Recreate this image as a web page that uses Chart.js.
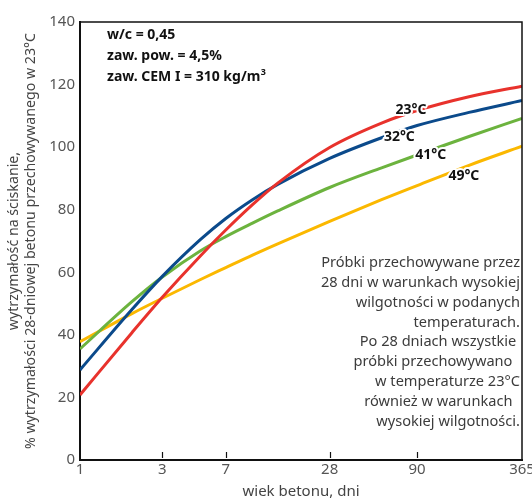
<!DOCTYPE html>
<html>
<head>
<meta charset="utf-8">
<script src="https://cdn.jsdelivr.net/npm/chart.js@4.4.1/dist/chart.umd.min.js"></script>
<style>
  html, body { margin: 0; padding: 0; background: #fff; overflow: hidden; }
  #wrap { width: 545px; height: 501px; }
</style>
</head>
<body>
<div id="wrap"><canvas id="chart" width="545" height="501"></canvas></div>
<script>
// wiek betonu (dni) i wytrzymałość w % wytrzymałości 28-dniowej (23°C)
var days = [1, 2, 3, 5, 7, 10, 14, 28, 56, 90, 180, 365];
var s23 = [20.8, 40.7, 52.0, 65.3, 73.5, 81.6, 88.5, 99.9, 107.7, 111.7, 116.1, 119.5];
var s32 = [28.8, 48.1, 58.7, 70.5, 77.2, 83.2, 88.1, 96.4, 103.0, 106.9, 111.1, 114.9];
var s41 = [35.5, 50.6, 58.5, 66.9, 71.4, 75.7, 79.6, 87.1, 93.4, 97.5, 103.4, 109.2];
var s49 = [37.8, 46.8, 51.7, 57.7, 61.5, 65.5, 69.1, 76.3, 83.2, 87.7, 94.2, 100.3];

var xTicks = [1, 3, 7, 28, 90, 365];

// etykiety serii (dzień, wartość)
var labelNames = ["23°C", "32°C", "41°C", "49°C"];
var labelDays = [83, 71, 108, 168];
var labelValues = [111.9, 103.2, 97.5, 90.8];

var headerLines = ["w/c = 0,45", "zaw. pow. = 4,5%", "zaw. CEM I = 310 kg/m"];
var noteLines = [
  "Próbki przechowywane przez",
  "28 dni w warunkach wysokiej",
  "wilgotności w podanych",
  "temperaturach.",
  "Po 28 dniach wszystkie ",
  "próbki przechowywano  ",
  "w temperaturze 23°C",
  "również w warunkach  ",
  "wysokiej wilgotności."
];

var FONT = "'Noto Sans', 'DejaVu Sans', sans-serif";

function series(vals){
  return days.map(function(d, i){ return {x: d, y: vals[i]}; });
}

function ds(label, vals, color){
  return {
    label: label,
    data: series(vals),
    borderColor: color,
    backgroundColor: color,
    borderWidth: 3,
    pointRadius: 0,
    cubicInterpolationMode: "monotone",
    fill: false
  };
}

var decor = {
  id: "decor",
  afterDraw: function(chart){
    var ctx = chart.ctx;
    var a = chart.chartArea;
    var xs = chart.scales.x, ys = chart.scales.y;
    ctx.save();

    // ramka góra / prawo
    ctx.strokeStyle = "#111";
    ctx.lineWidth = 1.5;
    ctx.beginPath();
    ctx.moveTo(a.left, a.top);
    ctx.lineTo(a.right, a.top);
    ctx.lineTo(a.right, a.bottom);
    ctx.stroke();

    // znaczniki osi x do środka
    ctx.lineWidth = 1.2;
    xTicks.slice(1, -1).forEach(function(v){
      var px = Math.round(xs.getPixelForValue(v)) + 0.5;
      ctx.beginPath();
      ctx.moveTo(px, a.bottom - 8);
      ctx.lineTo(px, a.bottom - 2);
      ctx.stroke();
    });

    // nagłówek
    ctx.fillStyle = "#111";
    ctx.font = "bold 14px " + FONT;
    ctx.textAlign = "left";
    ctx.textBaseline = "middle";
    headerLines.forEach(function(t, i){
      ctx.fillText(t, 107, 35 + i * 21);
    });
    var w = ctx.measureText(headerLines[2]).width;
    ctx.font = "bold 9px " + FONT;
    ctx.fillText("3", 107 + w + 0.5, 72);

    // opis
    ctx.fillStyle = "#3c3c3c";
    ctx.font = "14.6px " + FONT;
    ctx.textAlign = "right";
    noteLines.forEach(function(t, i){
      ctx.fillText(t, 520, 263 + i * 19.8);
    });

    // etykiety krzywych
    ctx.font = "bold 14px " + FONT;
    ctx.textAlign = "center";
    ctx.lineJoin = "round";
    labelNames.forEach(function(t, i){
      var px = xs.getPixelForValue(labelDays[i]);
      var py = ys.getPixelForValue(labelValues[i]);
      ctx.strokeStyle = "#fff";
      ctx.lineWidth = 4;
      ctx.strokeText(t, px, py);
      ctx.fillStyle = "#111";
      ctx.fillText(t, px, py);
    });

    ctx.restore();
  }
};

new Chart(document.getElementById("chart"), {
  type: "line",
  data: {
    datasets: [
      ds("23°C", s23, "#e8322c"),
      ds("32°C", s32, "#0b4a8b"),
      ds("41°C", s41, "#6cb33e"),
      ds("49°C", s49, "#fbb800")
    ]
  },
  options: {
    responsive: false,
    animation: false,
    layout: { padding: { left: 0, top: 22, right: 23, bottom: 0 } },
    plugins: {
      legend: { display: false },
      tooltip: { enabled: false }
    },
    scales: {
      x: {
        type: "logarithmic",
        min: 1,
        max: 365,
        afterBuildTicks: function(scale){
          scale.ticks = xTicks.map(function(v){ return {value: v}; });
        },
        afterFit: function(scale){ scale.height = 41; },
        grid: { display: false, drawTicks: false },
        border: { display: true, color: "#111", width: 2 },
        ticks: {
          autoSkip: false,
          maxRotation: 0,
          padding: 1,
          color: "#555",
          font: { family: FONT, size: 15 },
          callback: function(v){ return String(v); }
        },
        title: {
          display: true,
          text: "wiek betonu, dni",
          color: "#444",
          font: { family: FONT, size: 15 },
          padding: { top: 0, bottom: 0 }
        }
      },
      y: {
        min: 0,
        max: 140,
        afterFit: function(scale){ scale.width = 80; },
        grid: { display: false, drawTicks: false },
        border: { display: true, color: "#111", width: 2 },
        ticks: {
          stepSize: 20,
          padding: 5,
          color: "#555",
          font: { family: FONT, size: 15 }
        },
        title: {
          display: true,
          text: ["wytrzymałość na ściskanie,", "% wytrzymałości 28-dniowej betonu przechowywanego w 23°C"],
          color: "#444",
          font: { family: FONT, size: 14.2, lineHeight: 1.2 },
          padding: { top: 5, bottom: 0 }
        }
      }
    }
  },
  plugins: [decor]
});
</script>
</body>
</html>
